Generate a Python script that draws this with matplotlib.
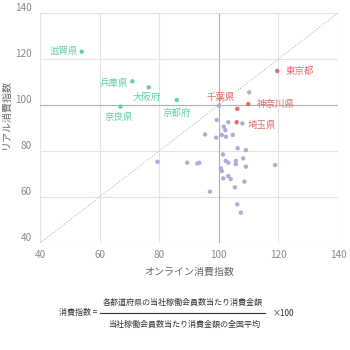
import numpy as np
import matplotlib
matplotlib.use('Agg')
import matplotlib.pyplot as plt
import matplotlib.transforms as mtransforms
from matplotlib.lines import Line2D

plt.rcParams['font.family'] = ['Noto Sans CJK JP', 'DejaVu Sans']

# 西日本（緑）
west_names = ['滋賀県', '兵庫県', '大阪府', '奈良県', '京都府']
west_x = [54.0, 71.0, 76.5, 67.0, 85.9]
west_y = [123.2, 110.3, 107.7, 99.3, 102.2]

# 首都圏（赤）
east_names = ['東京都', '神奈川県', '千葉県', '埼玉県']
east_x = [119.6, 109.9, 106.2, 106.0]
east_y = [114.8, 100.4, 98.3, 92.5]

# その他の県（紫）
other_x = [110.2, 100.1, 107.9, 99.3, 103.2, 101.7, 102.2, 95.4, 99.1, 101.0,
           102.4, 104.7, 106.3, 109.1, 101.4, 79.4, 89.4, 92.8, 93.5, 108.2,
           102.3, 103.2, 105.7, 105.7, 109.1, 118.9, 100.7, 101.0, 101.5, 103.2,
           104.0, 108.6, 105.4, 97.0, 106.2, 107.4]
other_y = [105.5, 99.7, 92.0, 93.5, 92.5, 90.6, 89.1, 87.2, 85.8, 87.0,
           86.2, 87.0, 81.2, 80.4, 78.5, 75.3, 74.9, 74.6, 74.9, 76.8,
           75.7, 74.9, 75.7, 74.3, 73.2, 73.9, 72.5, 71.3, 68.1, 69.1,
           67.8, 66.7, 64.2, 62.3, 56.8, 53.2]

ticks = [40, 60, 80, 100, 120, 140]

green = '#62d0a6'
red = '#e36b6b'
purple = '#adadda'

fig = plt.figure(figsize=(3.5, 3.5), dpi=100)
ax = fig.add_axes([40 / 350, 1 - 243 / 350, 298 / 350, 230 / 350])

ax.set_xlim(40, 140)
ax.set_ylim(40, 140)
for t in ticks:
    c = '#b0b0b0' if t == 100 else '#e3e3e3'
    ax.axvline(t, color=c, lw=0.8, zorder=0)
    ax.axhline(t, color=c, lw=0.8, zorder=0)
ax.plot([40, 140], [40, 140], ls=(0, (1, 1.5)), color='#b8b8b8', lw=0.8, zorder=1)

ax.scatter(other_x, other_y, s=10, color=purple, edgecolors='none', zorder=3)
ax.scatter(west_x, west_y, s=10, color=green, edgecolors='none', zorder=3)
ax.scatter(east_x, east_y, s=10, color=red, edgecolors='none', zorder=3)

# ラベル位置（ピクセルのオフセット）
west_off = [(-4, 0, 'right', 'center'), (-4, -2, 'right', 'center'),
            (-2, -10, 'center', 'center'), (-1, -11, 'center', 'center'),
            (0, -13, 'center', 'center')]
east_off = [(8, 0, 'left', 'center'), (9, 0, 'left', 'center'),
            (-2, 11, 'right', 'center'), (11, -3, 'left', 'center')]
for n, x, y, o in zip(west_names, west_x, west_y, west_off):
    ax.annotate(n, (x, y), xytext=(o[0], o[1]), textcoords='offset pixels',
                ha=o[2], va=o[3], fontsize=6.8, color=green)
for n, x, y, o in zip(east_names, east_x, east_y, east_off):
    ax.annotate(n, (x, y), xytext=(o[0], o[1]), textcoords='offset pixels',
                ha=o[2], va=o[3], fontsize=6.8, color=red)

for s in ax.spines.values():
    s.set_visible(False)
ax.set_xticks(ticks)
ax.set_yticks(ticks)
ax.tick_params(length=0, labelsize=7.2, labelcolor='#8a8a8a', pad=6)
ax.tick_params(axis='x', pad=5)
off = mtransforms.ScaledTranslation(0, 6 / 100, fig.dpi_scale_trans)
for lab in ax.get_yticklabels():
    lab.set_transform(lab.get_transform() + off)

ax.set_xlabel('オンライン消費指数', fontsize=7.2, color='#666666', labelpad=5)
ax.set_ylabel('リアル消費指数', fontsize=7.2, color='#666666', labelpad=4)
ax.yaxis.set_label_coords(-0.1, 0.56)

# 計算式
fc = '#333333'
fig.text(97 / 350, 1 - 313 / 350, '消費指数 =', ha='right', va='center', fontsize=5.8, color=fc)
fig.text(182.5 / 350, 1 - 302.5 / 350, '各都道府県の当社稼働会員数当たり消費金額',
         ha='center', va='center', fontsize=5.8, color=fc)
fig.text(184 / 350, 1 - 324 / 350, '当社稼働会員数当たり消費金額の全国平均',
         ha='center', va='center', fontsize=5.8, color=fc)
fig.text(273 / 350, 1 - 313 / 350, '×100', ha='left', va='center', fontsize=5.8, color=fc)
fig.add_artist(Line2D([100 / 350, 265 / 350], [1 - 312.5 / 350, 1 - 312.5 / 350],
                      transform=fig.transFigure, color=fc, lw=0.8))

fig.savefig('out.png', dpi=100)
